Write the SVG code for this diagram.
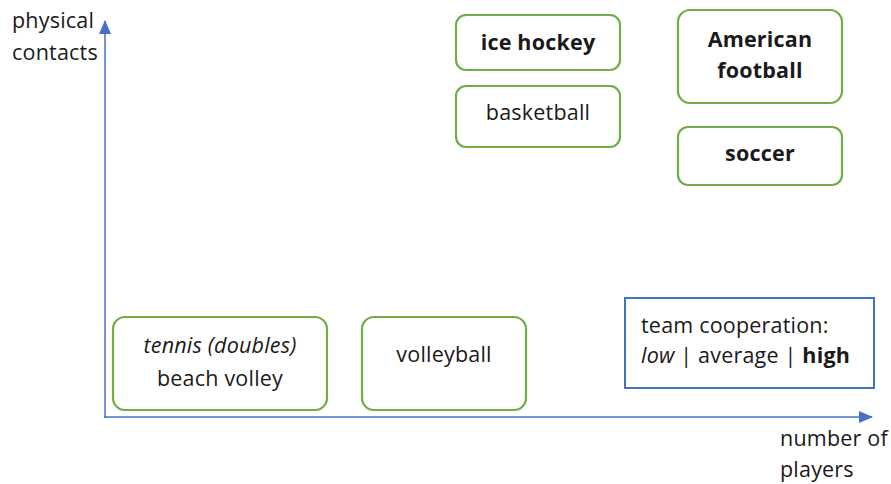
<svg xmlns="http://www.w3.org/2000/svg" width="891" height="484" viewBox="0 0 891 484">
<defs>
<style>
text{font-family:"Open Sans","Noto Sans","Liberation Sans",sans-serif;font-size:21.5px;fill:#1a1a1a;letter-spacing:0.2px}
.c{text-anchor:middle}
.b{font-weight:bold}
.i{font-style:italic}
.node rect{fill:#fff;stroke:#70AD47;stroke-width:2.2}
.axis{stroke:#4472C4;stroke-width:1.5;fill:none}
</style>
<marker id="arr2" viewBox="0 0 14 12" refX="13" refY="6" markerWidth="14" markerHeight="12" markerUnits="userSpaceOnUse" orient="auto"><path d="M0,0 L14,6 L0,12 z" fill="#4472C4"/></marker>
</defs>
<rect width="891" height="484" fill="#fff"/>
<g id="connectors">
<line class="axis" x1="105" y1="418" x2="105" y2="21" marker-end="url(#arr2)"/>
<line class="axis" x1="104" y1="417" x2="872" y2="417" marker-end="url(#arr2)"/>
</g>
<g id="labels">
<text x="12" y="28">physical</text>
<text x="12" y="60">contacts</text>
<text x="780" y="446">number of</text>
<text x="780" y="477">players</text>
</g>
<g id="ice-hockey" class="node"><rect x="456" y="15" width="164" height="55" rx="10"/><text class="c b" x="538" y="50">ice hockey</text></g>
<g id="basketball" class="node"><rect x="456" y="86" width="164" height="61" rx="10"/><text class="c" x="538" y="120">basketball</text></g>
<g id="american-football" class="node"><rect x="678" y="10" width="164" height="93" rx="12"/><text class="c b" x="760" y="47">American</text><text class="c b" x="760" y="78">football</text></g>
<g id="soccer" class="node"><rect x="678" y="127" width="164" height="58" rx="10"/><text class="c b" x="760" y="161">soccer</text></g>
<g id="tennis" class="node"><rect x="113" y="317" width="214" height="93" rx="12"/><text class="c i" x="220" y="353">tennis (doubles)</text><text class="c" x="220" y="386">beach volley</text></g>
<g id="volleyball" class="node"><rect x="362" y="317" width="164" height="93" rx="12"/><text class="c" x="444" y="362">volleyball</text></g>
<g id="legend"><rect x="625" y="298" width="249" height="90" fill="#fff" stroke="#4472C4" stroke-width="2"/>
<text x="641" y="333">team cooperation:</text>
<text x="641" y="363"><tspan class="i">low</tspan> | average | <tspan class="b">high</tspan></text></g>
</svg>
